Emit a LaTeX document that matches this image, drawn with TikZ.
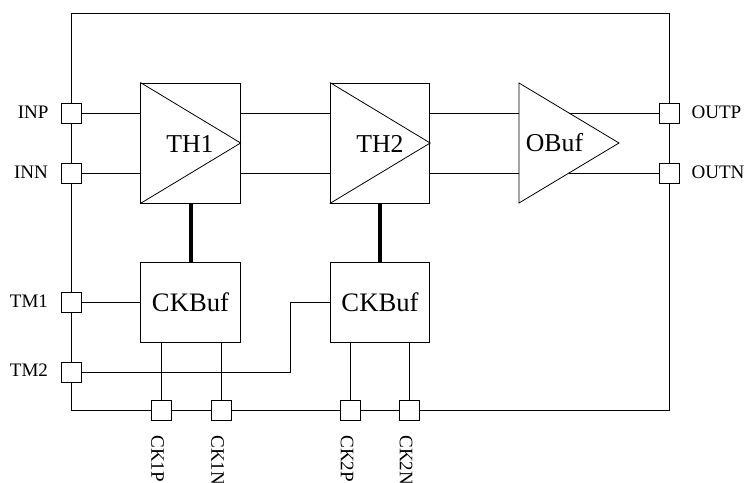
\documentclass[tikz,border=0pt]{standalone}
\usepackage{fontspec}
\setmainfont{Liberation Serif}
\usetikzlibrary{positioning}
\tikzset{
	padbox/.style={draw, fill=white, minimum size=15pt, inner sep=0pt},
	blockbox/.style={draw, fill=white, minimum width=74.5pt, inner sep=0pt, font=\fontsize{20}{22}\selectfont},
	blocktext/.style={inner sep=0pt, font=\fontsize{19.3}{22}\selectfont},
	pinlabel/.style={inner sep=0pt, font=\fontsize{14.3}{16}\selectfont},
	tri/.style={line width=0.6pt},
	clkline/.style={line width=3pt}
}
\begin{document}
\begin{tikzpicture}[x=0.75pt, y=-0.75pt, line width=0.75pt]
	\useasboundingbox (0,0) rectangle (746,482);
	\draw (71,13) rectangle (669,410);
	% blocks
	\node [blockbox, minimum height=90pt] (th1) at (190.5,143) {};
	\node [blockbox, minimum height=90pt] (th2) at (380,143) {};
	\node [blockbox, minimum height=60pt] (ck1) at (190.5,302) {CKBuf};
	\node [blockbox, minimum height=60pt] (ck2) at (380,302) {CKBuf};
	\draw [tri] (th1.north west) -- (th1.east) -- (th1.south west);
	\draw [tri] (th2.north west) -- (th2.east) -- (th2.south west);
	\node [blocktext] (th1t) at (190,144) {TH1};
	\node [blocktext] (th2t) at (380,144) {TH2};
	\draw [tri] (519,83) -- (619,143) -- (519,203) -- cycle;
	\node [blocktext] (obuf) at (554.5,143) {OBuf};
	\coordinate (ob1) at (519,113);
	\coordinate (ob2) at (519,173);
	\coordinate (ob3) at (569,113);
	\coordinate (ob4) at (569,173);
	% pads
	\node [padbox] (inp) at (71,113) {};
	\node [padbox] (inn) at (71,173) {};
	\node [padbox] (tm1) at (71,302) {};
	\node [padbox] (tm2) at (71,372) {};
	\node [padbox] (outp) at (669,113) {};
	\node [padbox] (outn) at (669,173) {};
	\node [padbox] (ck1p) at (161,410) {};
	\node [padbox] (ck1n) at (221,410) {};
	\node [padbox] (ck2p) at (350,410) {};
	\node [padbox] (ck2n) at (409.5,410) {};
	% wires
	\draw (inp) -- (inp -| th1.west)
	(inn) -- (inn -| th1.west)
	(tm1) -- (tm1 -| ck1.west)
	(ob1 -| th1.east) -- (ob1 -| th2.west)
	(ob2 -| th1.east) -- (ob2 -| th2.west)
	(ob1 -| th2.east) -- (ob1)
	(ob2 -| th2.east) -- (ob2)
	(ob3) -- (outp)
	(ob4) -- (outn)
	(ck1p |- ck1.south) -- (ck1p)
	(ck1n |- ck1.south) -- (ck1n)
	(ck2p |- ck2.south) -- (ck2p)
	(ck2n |- ck2.south) -- (ck2n)
	(tm2) -| (290,302) -- (ck2.west);
	\draw [clkline] (th1) -- (ck1);
	\draw [clkline] (th2) -- (ck2);
	% labels
	\node [pinlabel, anchor=east] (linp) at (49,112) {INP};
	\node [pinlabel, anchor=east] (linn) at (48.5,172) {INN};
	\node [pinlabel, anchor=east] (ltm1) at (48.5,301) {TM1};
	\node [pinlabel, anchor=east] (ltm2) at (48.5,370.5) {TM2};
	\node [pinlabel, anchor=west] (loutp) at (691,112) {OUTP};
	\node [pinlabel, anchor=west] (loutn) at (691,172) {OUTN};
	\node [pinlabel, anchor=west, rotate=-90] (lck1p) at (157.5,435) {CK1P};
	\node [pinlabel, anchor=west, rotate=-90] (lck1n) at (217.5,435) {CK1N};
	\node [pinlabel, anchor=west, rotate=-90] (lck2p) at (347,435) {CK2P};
	\node [pinlabel, anchor=west, rotate=-90] (lck2n) at (406,435) {CK2N};
\end{tikzpicture}
\end{document}
